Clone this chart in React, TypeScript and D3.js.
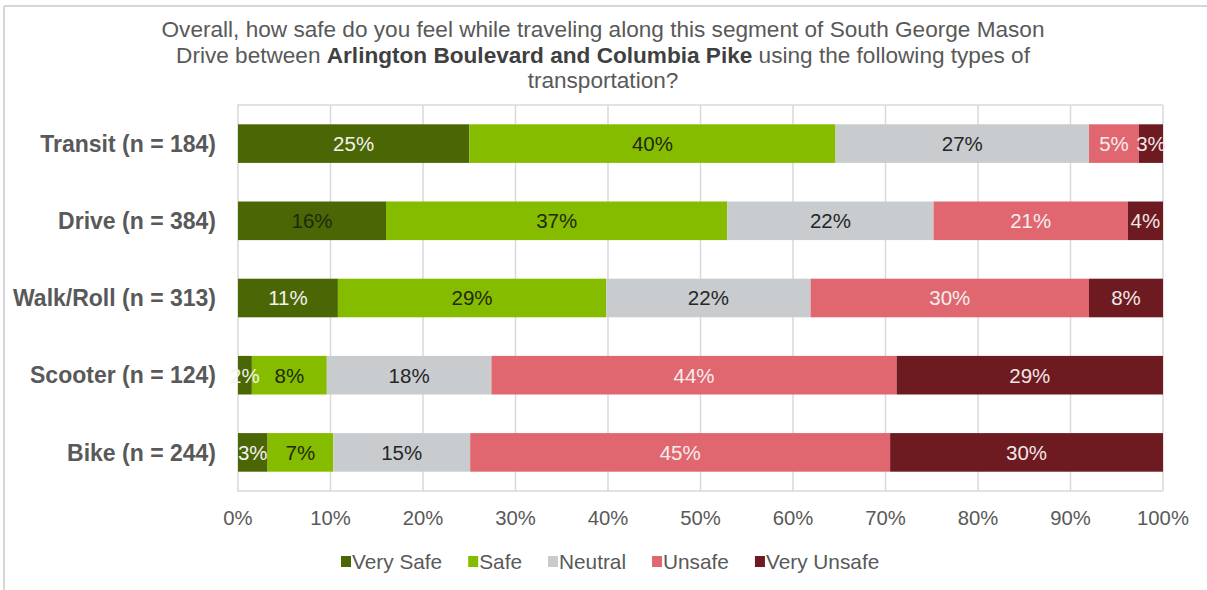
import { useEffect, useRef } from 'react';
import { scaleBand, scaleLinear, select, stack } from 'd3';

const categories = [
  'Transit (n = 184)',
  'Drive (n = 384)',
  'Walk/Roll (n = 313)',
  'Scooter (n = 124)',
  'Bike (n = 244)',
];
const seriesNames = ['Very Safe', 'Safe', 'Neutral', 'Unsafe', 'Very Unsafe'];
const verySafe = [25.0, 16.0, 10.8, 1.5, 3.2];
const safe = [39.6, 36.9, 29.0, 8.1, 7.1];
const neutral = [27.4, 22.3, 22.1, 17.8, 14.8];
const unsafe = [5.4, 21.0, 30.1, 43.8, 45.4];
const veryUnsafe = [2.6, 3.8, 8.0, 28.8, 29.5];
const xTicks = [0, 10, 20, 30, 40, 50, 60, 70, 80, 90, 100];
const titleLines = [
  [{ t: 'Overall, how safe do you feel while traveling along this segment of South George Mason', b: false }],
  [
    { t: 'Drive between ', b: false },
    { t: 'Arlington Boulevard and Columbia Pike', b: true },
    { t: ' using the following types of', b: false },
  ],
  [{ t: 'transportation?', b: false }],
];

const colors = ['#4b6604', '#86bc00', '#c9cccf', '#e0676f', '#6d1a21'];
const labelColors = ['#f2f2ee', '#1f2a0c', '#262626', '#f6eeee', '#f3e6e6'];
// the Drive "Very Safe" label is dark in the source
const darkLabelOverride: Record<string, string> = { 'Drive (n = 384)|Very Safe': '#1f2a0c' };

export default function App() {
  const svgRef = useRef<SVGSVGElement>(null);

  useEffect(() => {
    const width = 1207;
    const height = 590;
    const font = '"Liberation Sans", Arial, sans-serif';
    const plot = { left: 237, right: 1163, top: 105, bottom: 491 };

    const svg = select(svgRef.current);
    svg.selectAll('*').remove();
    svg.attr('width', width).attr('height', height).style('font-family', font);

    svg.append('rect').attr('width', width).attr('height', height).attr('fill', '#fff');

    // outer frame (top + left)
    svg.append('line').attr('x1', 4).attr('x2', width).attr('y1', 6).attr('y2', 6)
      .attr('stroke', '#d6d6d6').attr('stroke-width', 2);
    svg.append('line').attr('x1', 4).attr('x2', 4).attr('y1', 6).attr('y2', height)
      .attr('stroke', '#d6d6d6').attr('stroke-width', 2);

    // title
    const title = svg.append('text').attr('text-anchor', 'middle').attr('fill', '#595959')
      .style('font-size', '22.6px');
    titleLines.forEach((line, i) => {
      const tl = title.append('tspan').attr('x', 603).attr('y', 37 + i * 25.5);
      line.forEach((part) => {
        tl.append('tspan').attr('font-weight', part.b ? 'bold' : 'normal')
          .attr('fill', part.b ? '#404040' : '#595959').text(part.t);
      });
    });

    const x = scaleLinear().domain([0, 100]).range([plot.left + 1, plot.right]);
    const y = scaleBand().domain(categories).range([plot.top, plot.bottom])
      .paddingInner(0.5).paddingOuter(0.25);

    // grid
    svg.append('g').selectAll('line').data(xTicks).enter().append('line')
      .attr('x1', (d) => x(d)).attr('x2', (d) => x(d))
      .attr('y1', plot.top).attr('y2', plot.bottom)
      .attr('stroke', '#d9d9d9').attr('stroke-width', 1.5);
    svg.append('line').attr('x1', plot.left).attr('x2', plot.right)
      .attr('y1', plot.top).attr('y2', plot.top).attr('stroke', '#d9d9d9').attr('stroke-width', 1.5);
    svg.append('line').attr('x1', plot.left).attr('x2', plot.right)
      .attr('y1', plot.bottom).attr('y2', plot.bottom).attr('stroke', '#d9d9d9').attr('stroke-width', 1.5);

    const rows = categories.map((c, i) => ({
      name: c,
      'Very Safe': verySafe[i],
      Safe: safe[i],
      Neutral: neutral[i],
      Unsafe: unsafe[i],
      'Very Unsafe': veryUnsafe[i],
    }));
    const series = stack<any>().keys(seriesNames)(rows);

    series.forEach((s, si) => {
      const g = svg.append('g');
      g.selectAll('rect').data(s).enter().append('rect')
        .attr('x', (d) => x(d[0]))
        .attr('y', (d) => y(d.data.name)!)
        .attr('width', (d) => Math.min(x(d[1]), plot.right) - x(d[0]))
        .attr('height', y.bandwidth())
        .attr('fill', colors[si]);
    });

    series.forEach((s, si) => {
      const g = svg.append('g');
      g.selectAll('text').data(s).enter().append('text')
        .attr('x', (d) => (x(d[0]) + Math.min(x(d[1]), plot.right)) / 2)
        .attr('y', (d) => y(d.data.name)! + y.bandwidth() / 2)
        .attr('dy', '0.36em')
        .attr('text-anchor', 'middle')
        .style('font-size', '20.5px')
        .attr('fill', (d) => darkLabelOverride[`${d.data.name}|${s.key}`] ?? labelColors[si])
        .text((d) => `${Math.round(d[1] - d[0])}%`);
    });

    // category labels
    svg.append('g').selectAll('text').data(categories).enter().append('text')
      .attr('x', 216)
      .attr('y', (d) => y(d)! + y.bandwidth() / 2)
      .attr('dy', '0.36em')
      .attr('text-anchor', 'end')
      .attr('font-weight', 'bold')
      .attr('fill', '#595959')
      .style('font-size', '23px')
      .text((d) => d);

    // x tick labels
    svg.append('g').selectAll('text').data(xTicks).enter().append('text')
      .attr('x', (d) => x(d))
      .attr('y', 518)
      .attr('dy', '0.36em')
      .attr('text-anchor', 'middle')
      .attr('fill', '#595959')
      .style('font-size', '20.3px')
      .text((d) => `${d}%`);

    // legend
    const legend = svg.append('g');
    let lx = 341;
    seriesNames.forEach((n, i) => {
      legend.append('rect').attr('x', lx).attr('y', 556).attr('width', 10).attr('height', 11)
        .attr('fill', colors[i]);
      const t = legend.append('text').attr('x', lx + 11).attr('y', 562).attr('dy', '0.36em')
        .attr('fill', '#595959').style('font-size', '20.8px').text(n);
      const w = (t.node() as SVGTextElement).getComputedTextLength();
      lx += 11 + w + 26;
    });
  }, []);

  return (
    <div style={{ position: 'absolute', left: 0, top: 0 }}>
      <svg ref={svgRef}></svg>
    </div>
  );
}
